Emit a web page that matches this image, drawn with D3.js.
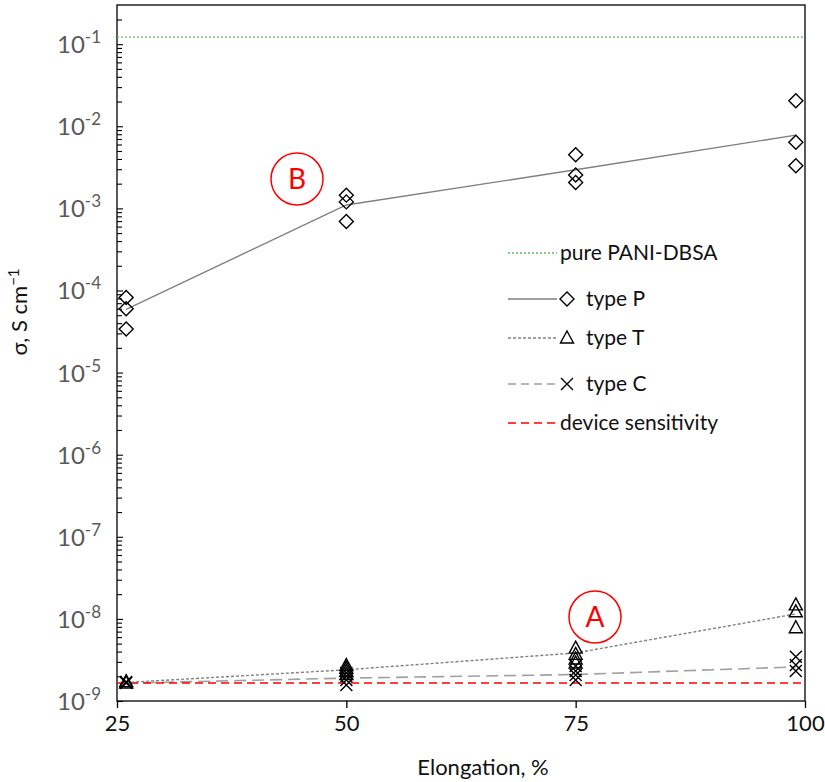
<!DOCTYPE html>
<html>
<head>
<meta charset="utf-8">
<script src="https://cdn.jsdelivr.net/npm/d3@7"></script>
<style>
  body { margin: 0; background: #fff; }
  svg { display: block; font-family: Lato, "Open Sans", sans-serif; }
</style>
</head>
<body>
<svg id="chart" width="825" height="782"></svg>
<script>
// elongation positions of the measured samples
var elongation = [26, 50, 75, 99];

// type P (diamonds), each row = samples at one elongation
var typeP = [
  [8.2e-5, 6.0e-5, 3.4e-5],
  [1.45e-3, 1.2e-3, 6.9e-4],
  [4.5e-3, 2.55e-3, 2.07e-3],
  [2.04e-2, 6.4e-3, 3.3e-3]
];
var lineP = [5.9e-5, 1.1e-3, 2.95e-3, 7.8e-3];

// type T (triangles)
var typeT = [
  [1.72e-9, 1.66e-9],
  [2.7e-9, 2.5e-9, 2.3e-9, 2.1e-9],
  [4.4e-9, 3.7e-9, 3.25e-9, 2.9e-9],
  [1.48e-8, 1.22e-8, 7.8e-9]
];
var lineT = [1.68e-9, 2.4e-9, 3.85e-9, 1.15e-8];

// type C (crosses)
var typeC = [
  [1.7e-9, 1.66e-9],
  [2.2e-9, 2.0e-9, 1.8e-9, 1.57e-9],
  [2.67e-9, 2.32e-9, 2.07e-9, 1.8e-9],
  [3.45e-9, 2.75e-9, 2.32e-9]
];
var lineC = [1.65e-9, 1.9e-9, 2.1e-9, 2.6e-9];

var pureValue = 0.122;
var deviceSensitivity = 1.66e-9;

var xTicks = [25, 50, 75, 100];
var yDecades = [-9, -8, -7, -6, -5, -4, -3, -2, -1];

(function () {
  var svg = d3.select('#chart');
  var plotLeft = 117, plotRight = 805, plotTop = 5, plotBottom = 701;

  var x = d3.scaleLinear().domain([25, 100]).range([plotLeft, plotRight]);
  var y = d3.scaleLog().domain([1e-9, 0.3]).range([plotBottom, plotTop]);

  // frame
  svg.append('rect')
    .attr('x', plotLeft).attr('y', plotTop)
    .attr('width', plotRight - plotLeft).attr('height', plotBottom - plotTop)
    .attr('fill', 'none').attr('stroke', '#000').attr('stroke-width', 1.3);

  // minor ticks (inside)
  var minor = [];
  yDecades.forEach(function (d) {
    for (var k = 2; k <= 9; k++) {
      var v = k * Math.pow(10, d);
      if (v <= 0.3) minor.push(v);
    }
  });
  svg.append('g')
    .attr('transform', 'translate(' + plotLeft + ',0)')
    .call(d3.axisLeft(y).tickValues(minor).tickSize(-5).tickFormat(''))
    .call(function (g) {
      g.select('.domain').remove();
      g.selectAll('line').attr('stroke', '#000').attr('stroke-width', 1.1);
    });

  // major ticks + labels
  var yAxis = svg.append('g')
    .attr('transform', 'translate(' + plotLeft + ',0)')
    .call(d3.axisLeft(y).tickValues(yDecades.map(function (d) { return Math.pow(10, d); }))
      .tickSize(-6).tickFormat(''));
  yAxis.select('.domain').remove();
  yAxis.selectAll('line').attr('stroke', '#000').attr('stroke-width', 1.1);

  var yLabels = svg.append('g').attr('fill', '#595959');
  yDecades.forEach(function (d) {
    var t = yLabels.append('text')
      .attr('x', 101)
      .attr('y', y(Math.pow(10, d)) + 9)
      .attr('text-anchor', 'end')
      .attr('font-size', 24);
    t.append('tspan').text('10');
    t.append('tspan').attr('dy', -10).attr('font-size', 17).text(String(d));
  });

  // x axis ticks (outside)
  var xAxis = svg.append('g')
    .attr('transform', 'translate(0,' + plotBottom + ')')
    .call(d3.axisBottom(x).tickValues(xTicks).tickSize(7).tickPadding(7));
  xAxis.select('.domain').remove();
  xAxis.selectAll('line').attr('stroke', '#000').attr('stroke-width', 1.3);
  xAxis.selectAll('text').attr('font-size', 22).attr('fill', '#111')
    .attr('font-family', 'Lato, "Open Sans", sans-serif');

  // axis titles
  svg.append('text')
    .attr('x', 483).attr('y', 775)
    .attr('text-anchor', 'middle')
    .attr('font-size', 22).attr('fill', '#111')
    .text('Elongation, %');

  var yTitle = svg.append('text')
    .attr('transform', 'translate(27,312) rotate(-90)')
    .attr('text-anchor', 'middle')
    .attr('font-size', 22).attr('fill', '#111');
  yTitle.append('tspan').text('σ, S cm');
  yTitle.append('tspan').attr('dy', -8).attr('font-size', 15).text('−1');

  // reference lines
  svg.append('line')
    .attr('x1', x(25)).attr('x2', x(100))
    .attr('y1', y(pureValue)).attr('y2', y(pureValue))
    .attr('stroke', '#62bb62').attr('stroke-width', 1.3)
    .attr('stroke-dasharray', '2,2');

  var line = d3.line()
    .x(function (d, i) { return x(elongation[i]); })
    .y(function (d) { return y(d); });

  svg.append('path').datum(lineC)
    .attr('d', line).attr('fill', 'none')
    .attr('stroke', '#a0a0a0').attr('stroke-width', 1.6)
    .attr('stroke-dasharray', '12,6');

  svg.append('line')
    .attr('x1', x(25)).attr('x2', x(100))
    .attr('y1', y(deviceSensitivity)).attr('y2', y(deviceSensitivity))
    .attr('stroke', '#ff0000').attr('stroke-width', 1.4)
    .attr('stroke-dasharray', '8,5');

  svg.append('path').datum(lineT)
    .attr('d', line).attr('fill', 'none')
    .attr('stroke', '#808080').attr('stroke-width', 1.4)
    .attr('stroke-dasharray', '3,2');

  svg.append('path').datum(lineP)
    .attr('d', line).attr('fill', 'none')
    .attr('stroke', '#808080').attr('stroke-width', 1.4);

  // marker shapes
  function diamond(g, cx, cy) {
    g.append('path')
      .attr('d', 'M' + cx + ',' + (cy - 7) + 'L' + (cx + 7) + ',' + cy + 'L' + cx + ',' + (cy + 7) + 'L' + (cx - 7) + ',' + cy + 'Z')
      .attr('fill', 'none').attr('stroke', '#000').attr('stroke-width', 1.4);
  }
  function triangle(g, cx, cy) {
    g.append('path')
      .attr('d', 'M' + cx + ',' + (cy - 7) + 'L' + (cx + 6.5) + ',' + (cy + 5) + 'L' + (cx - 6.5) + ',' + (cy + 5) + 'Z')
      .attr('fill', 'none').attr('stroke', '#000').attr('stroke-width', 1.4);
  }
  function cross(g, cx, cy) {
    g.append('path')
      .attr('d', 'M' + (cx - 6) + ',' + (cy - 6) + 'L' + (cx + 6) + ',' + (cy + 6) + 'M' + (cx + 6) + ',' + (cy - 6) + 'L' + (cx - 6) + ',' + (cy + 6))
      .attr('fill', 'none').attr('stroke', '#000').attr('stroke-width', 1.4);
  }

  var marks = svg.append('g');
  [[typeP, diamond], [typeT, triangle], [typeC, cross]].forEach(function (s) {
    s[0].forEach(function (vals, i) {
      vals.forEach(function (v) {
        s[1](marks, x(elongation[i]), y(v));
      });
    });
  });

  // legend
  var legendItems = [
    { label: 'pure PANI-DBSA', color: '#62bb62', dash: '2,2', marker: null },
    { label: 'type P', color: '#808080', dash: null, marker: diamond },
    { label: 'type T', color: '#808080', dash: '3,2', marker: triangle },
    { label: 'type C', color: '#a0a0a0', dash: '8,5', marker: cross },
    { label: 'device sensitivity', color: '#ff0000', dash: '8,5', marker: null }
  ];
  var legendY = [253, 299, 338, 384, 423];
  var legend = svg.append('g');
  legendItems.forEach(function (item, i) {
    var ly = legendY[i];
    legend.append('line')
      .attr('x1', 508).attr('x2', 557)
      .attr('y1', ly).attr('y2', ly)
      .attr('stroke', item.color).attr('stroke-width', 1.4)
      .attr('stroke-dasharray', item.dash);
    var tx = 560;
    if (item.marker) {
      item.marker(legend, 567, ly);
      tx = 586;
    }
    legend.append('text')
      .attr('x', tx).attr('y', ly + 7)
      .attr('font-size', 21).attr('fill', '#111')
      .text(item.label);
  });

  // annotations
  [{ t: 'B', cx: 297, cy: 179 }, { t: 'A', cx: 595, cy: 617 }].forEach(function (a) {
    svg.append('circle')
      .attr('cx', a.cx).attr('cy', a.cy).attr('r', 26)
      .attr('fill', 'none').attr('stroke', '#ff0000').attr('stroke-width', 1.5);
    svg.append('text')
      .attr('x', a.cx).attr('y', a.cy + 10)
      .attr('text-anchor', 'middle')
      .attr('font-size', 28).attr('fill', '#ff0000')
      .text(a.t);
  });
})();
</script>
</body>
</html>
